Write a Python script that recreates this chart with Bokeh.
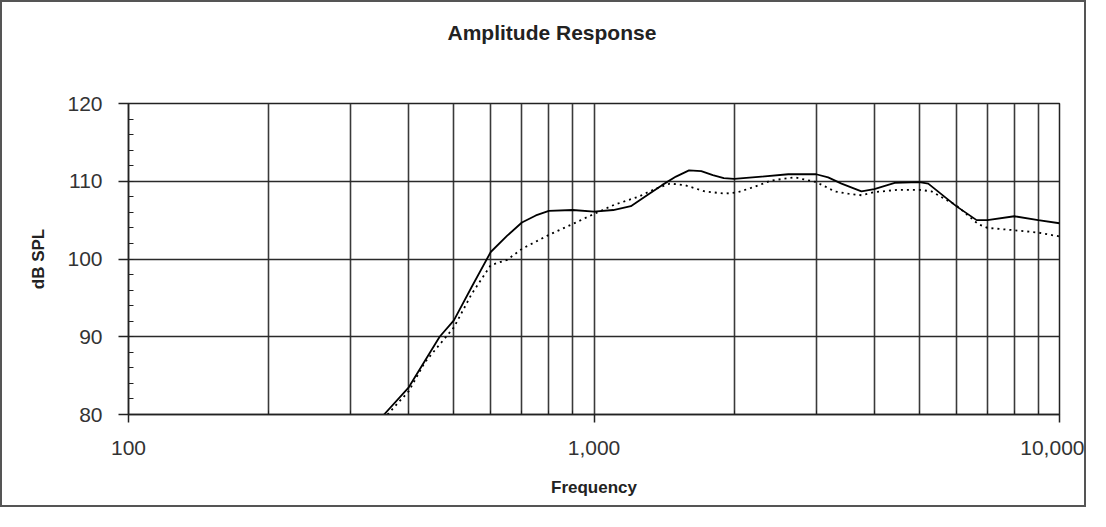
from bokeh.plotting import figure
from bokeh.models import FixedTicker, SingleIntervalTicker, NumeralTickFormatter, Title, LinearAxis
from bokeh.embed import file_html
from bokeh.resources import INLINE

# ---- data ----
solid_freq = [354, 400, 466, 500, 546, 600, 651, 700, 750, 800, 900, 1000, 1100, 1200, 1300,
              1400, 1500, 1600, 1700, 1800, 1900, 2000, 2291, 2614, 3000, 3184, 3402,
              3755, 4000, 4426, 5000, 5224, 6000, 6637, 7000, 8000, 9000, 10000]
solid_db = [80.0, 83.5, 90.0, 92.1, 96.4, 100.9, 103.0, 104.7, 105.6, 106.2, 106.3, 106.1, 106.3,
            106.8, 108.2, 109.5, 110.6, 111.4, 111.3, 110.8, 110.4, 110.3, 110.6, 110.9,
            110.9, 110.5, 109.7, 108.7, 109.0, 109.8, 109.9, 109.7, 106.8, 105.0, 105.0,
            105.5, 105.0, 104.6]

dotted_freq = [360, 400, 433, 500, 546, 600, 651, 700, 800, 900, 1000, 1108, 1245, 1351,
               1455, 1567, 1730, 1910, 2041, 2215, 2404, 2698, 3000, 3289, 3516, 3755,
               4000, 4498, 5000, 5309, 6000, 6685, 7000, 8000, 9000, 10000]
dotted_db = [80.0, 83.0, 86.7, 91.2, 95.5, 99.2, 99.9, 101.3, 103.1, 104.5, 105.8, 107.0,
             108.0, 109.0, 109.7, 109.5, 108.7, 108.4, 108.6, 109.3, 110.1, 110.5, 109.9,
             108.7, 108.4, 108.2, 108.6, 108.9, 108.9, 108.7, 106.9, 104.5, 104.0, 103.7,
             103.4, 102.9]

x_major = [100, 1000, 10000]
x_grid = [100, 200, 300, 400, 500, 600, 700, 800, 900,
          1000, 2000, 3000, 4000, 5000, 6000, 7000, 8000, 9000, 10000]
x_minor = [v for v in x_grid if v not in x_major]

title_text = "Amplitude Response"
x_label = "Frequency"
y_label = "dB SPL"

FONT = "Liberation Sans"

p = figure(width=1086, height=507, x_axis_type="log",
           x_range=(100, 10000), y_range=(80, 120),
           output_backend="svg", toolbar_location=None,
           min_border_left=126, min_border_right=29,
           min_border_top=101, min_border_bottom=95)
p.styles = {"border": "2px solid #555555"}
p.title.text = ""

# invisible spacer (closest to the frame), then the title above it
spacer = LinearAxis(ticker=FixedTicker(ticks=[1000]), major_label_overrides={1000: ""},
                    axis_line_color=None, major_tick_line_color=None,
                    minor_tick_line_color=None, major_tick_in=0, major_tick_out=40,
                    minor_tick_in=0, minor_tick_out=0, major_label_standoff=0)
p.add_layout(spacer, "above")
p.add_layout(Title(text=title_text, align="left", offset=319, vertical_align="top",
                   standoff=36,
                   text_font=FONT, text_font_size="21px", text_font_style="bold",
                   text_color="#222222"), "above")

p.outline_line_color = "#222222"
p.outline_line_width = 1.5
p.background_fill_color = "white"
p.border_fill_color = "white"

# x axis
xa = p.below[0]
xa.ticker = FixedTicker(ticks=x_major, minor_ticks=x_minor)
xa.formatter = NumeralTickFormatter(format="0,0")
xa.axis_label = x_label
xa.axis_label_text_font = FONT
xa.axis_label_text_font_size = "17px"
xa.axis_label_text_font_style = "bold"
xa.axis_label_text_color = "#222222"
xa.axis_label_standoff = 20
xa.major_label_text_font = FONT
xa.major_label_text_font_size = "21px"
xa.major_label_text_color = "#333333"
xa.major_label_standoff = 18
xa.major_tick_out = 8
xa.major_tick_in = 0
xa.minor_tick_in = 4
xa.minor_tick_out = 0
xa.axis_line_color = "#222222"
xa.axis_line_width = 1.5
xa.major_tick_line_color = "#222222"
xa.major_tick_line_width = 1.5
xa.minor_tick_line_color = "#222222"

# y axis
ya = p.left[0]
ya.ticker = SingleIntervalTicker(interval=10, num_minor_ticks=5)
ya.axis_label = y_label
ya.axis_label_text_font = FONT
ya.axis_label_text_font_size = "17px"
ya.axis_label_text_font_style = "bold"
ya.axis_label_text_color = "#222222"
ya.axis_label_standoff = 16
ya.major_label_text_font = FONT
ya.major_label_text_font_size = "21px"
ya.major_label_text_color = "#333333"
ya.major_label_standoff = 16
ya.major_tick_out = 10
ya.major_tick_in = 0
ya.minor_tick_in = 5
ya.minor_tick_out = 0
ya.axis_line_color = "#222222"
ya.axis_line_width = 1.5
ya.major_tick_line_color = "#222222"
ya.major_tick_line_width = 1.5
ya.minor_tick_line_color = "#222222"
ya.minor_tick_line_width = 1.2

# grids
p.xgrid.ticker = FixedTicker(ticks=x_grid)
p.xgrid.grid_line_color = "#3a3a3a"
p.xgrid.grid_line_width = 1.6
p.ygrid.ticker = SingleIntervalTicker(interval=10)
p.ygrid.grid_line_color = "#2a2a2a"
p.ygrid.grid_line_width = 1.6

# curves
p.line(solid_freq, solid_db, line_color="black", line_width=1.8)
p.line(dotted_freq, dotted_db, line_color="black", line_width=1.8, line_dash="2 4")

open("out.html", "w").write(file_html(p, INLINE))
